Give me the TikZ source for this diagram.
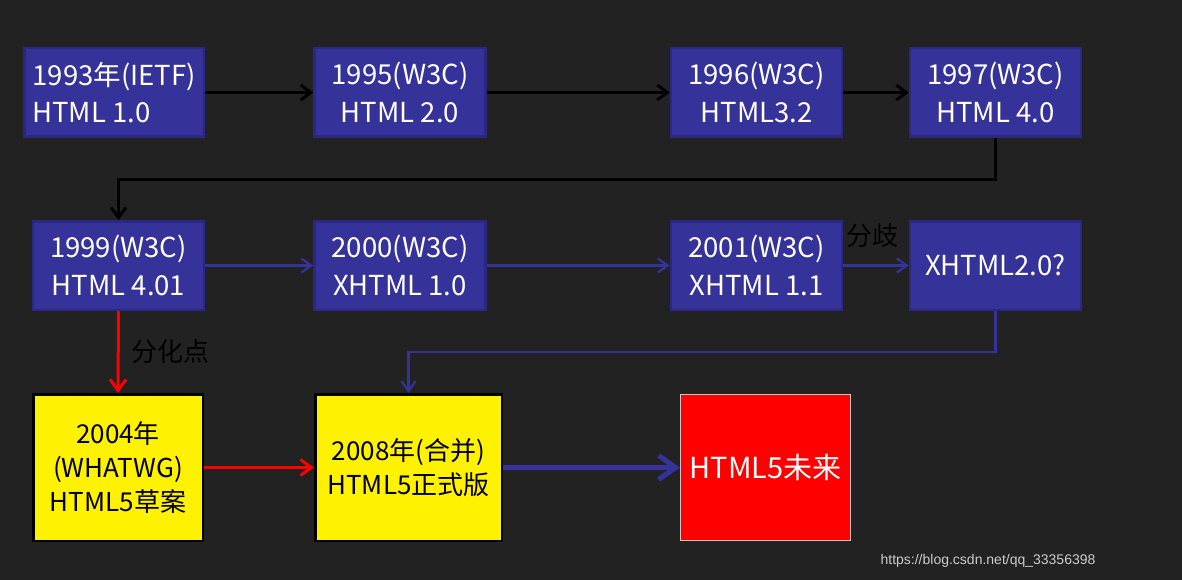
\documentclass[tikz,border=0pt]{standalone}
\usepackage{fontspec}
\setmainfont{Noto Sans CJK SC}
\newfontfamily\urlfont{Liberation Sans}
\usetikzlibrary{shapes,arrows.meta,calc}
\usepackage{xcolor}
\definecolor{bgdark}{RGB}{34,34,34}
\definecolor{boxblue}{RGB}{53,51,153}
\definecolor{boxedge}{RGB}{42,40,128}
\definecolor{rededge}{RGB}{215,195,195}

\begin{document}
\begin{tikzpicture}[x=1pt,y=-1pt,
    bluebox/.style={fill=boxblue,draw=boxedge,line width=2.5pt,text=white,inner sep=0pt,
      minimum width=171pt,minimum height=88.5pt,align=center,font=\fontsize{27.5}{37.5}\selectfont},
    yellowbox/.style={fill=yellow,draw=black,line width=2.5pt,text=black,inner sep=0pt,
      minimum height=146.5pt,align=center,font=\fontsize{26}{34}\selectfont},
    redbox/.style={fill=red,draw=rededge,line width=1pt,text=white,inner sep=0pt,
      minimum width=170pt,minimum height=146pt,font=\fontsize{29}{34}\selectfont},
    lbl/.style={text=black,inner sep=0pt,font=\fontsize{26}{28}\selectfont},
    blackarrow/.style={line width=3pt,black,-{Straight Barb[length=10pt,width=15pt]}},
    bluearrow/.style={line width=2.2pt,boxblue,-{Straight Barb[length=10pt,width=14pt]}},
    redarrow/.style={line width=3pt,red,-{Straight Barb[length=11pt,width=16pt]}},
    fatarrow/.style={line width=5pt,boxblue,-{Straight Barb[length=17pt,width=24pt]}}]
        \fill[bgdark] (0,0) rectangle (1182,580);
        % first row
        \node[bluebox,minimum width=179.5pt,align=left] (h10) at (114,92.5) {1993年(IETF)\\HTML 1.0};
        \node[bluebox] (h20) at (400,92.5) {1995(W3C)\\HTML 2.0};
        \node[bluebox] (h32) at (756.5,92.5) {1996(W3C)\\HTML3.2};
        \node[bluebox] (h40) at (995.5,92.5) {1997(W3C)\\HTML 4.0};
        % second row
        \node[bluebox] (h401) at (118.5,265.5) {1999(W3C)\\HTML 4.01};
        \node[bluebox] (x10) at (400,265.5) {2000(W3C)\\XHTML 1.0};
        \node[bluebox] (x11) at (756.5,265.5) {2001(W3C)\\XHTML 1.1};
        \node[bluebox] (x20) at (995.5,265.5) {XHTML2.0?};
        % third row
        \node[yellowbox,minimum width=169.5pt] (draft) at (118,467.5) {2004年\\(WHATWG)\\HTML5草案};
        \node[yellowbox,minimum width=186.5pt] (final) at (408.5,467.5) {2008年(合并)\\HTML5正式版};
        \node[redbox] (future) at (765.5,467.5) {HTML5未来};
        \draw[blackarrow] (h10.east) -- (h20.west);
        \draw[blackarrow] (h20.east) -- (h32.west);
        \draw[blackarrow] (h32.east) -- (h40.west);
        \draw[blackarrow] (h40.south) -- ++(0,42) -| (h401.north);
        \draw[bluearrow] (h401.east) -- (x10.west);
        \draw[bluearrow] (x10.east) -- (x11.west);
        \draw[bluearrow] (x11.east) -- (x20.west);
        \draw[bluearrow] (x20.south) -- ++(0,41) -| (final.north);
        \draw[redarrow] (h401.south) -- (draft.north);
        \draw[redarrow] (draft.east) -- (final.west);
        \draw[fatarrow] (final.east) -- (future.west);
        \node[lbl] (fenqi) at (872,236) {分歧};
        \node[lbl] (fenhua) at (170,352) {分化点};
        \node[text=black!20,inner sep=0pt,font=\urlfont\fontsize{14}{16}\selectfont] (url) at (988,561) {https://blog.csdn.net/qq\_33356398};
      \end{tikzpicture}
\end{document}
